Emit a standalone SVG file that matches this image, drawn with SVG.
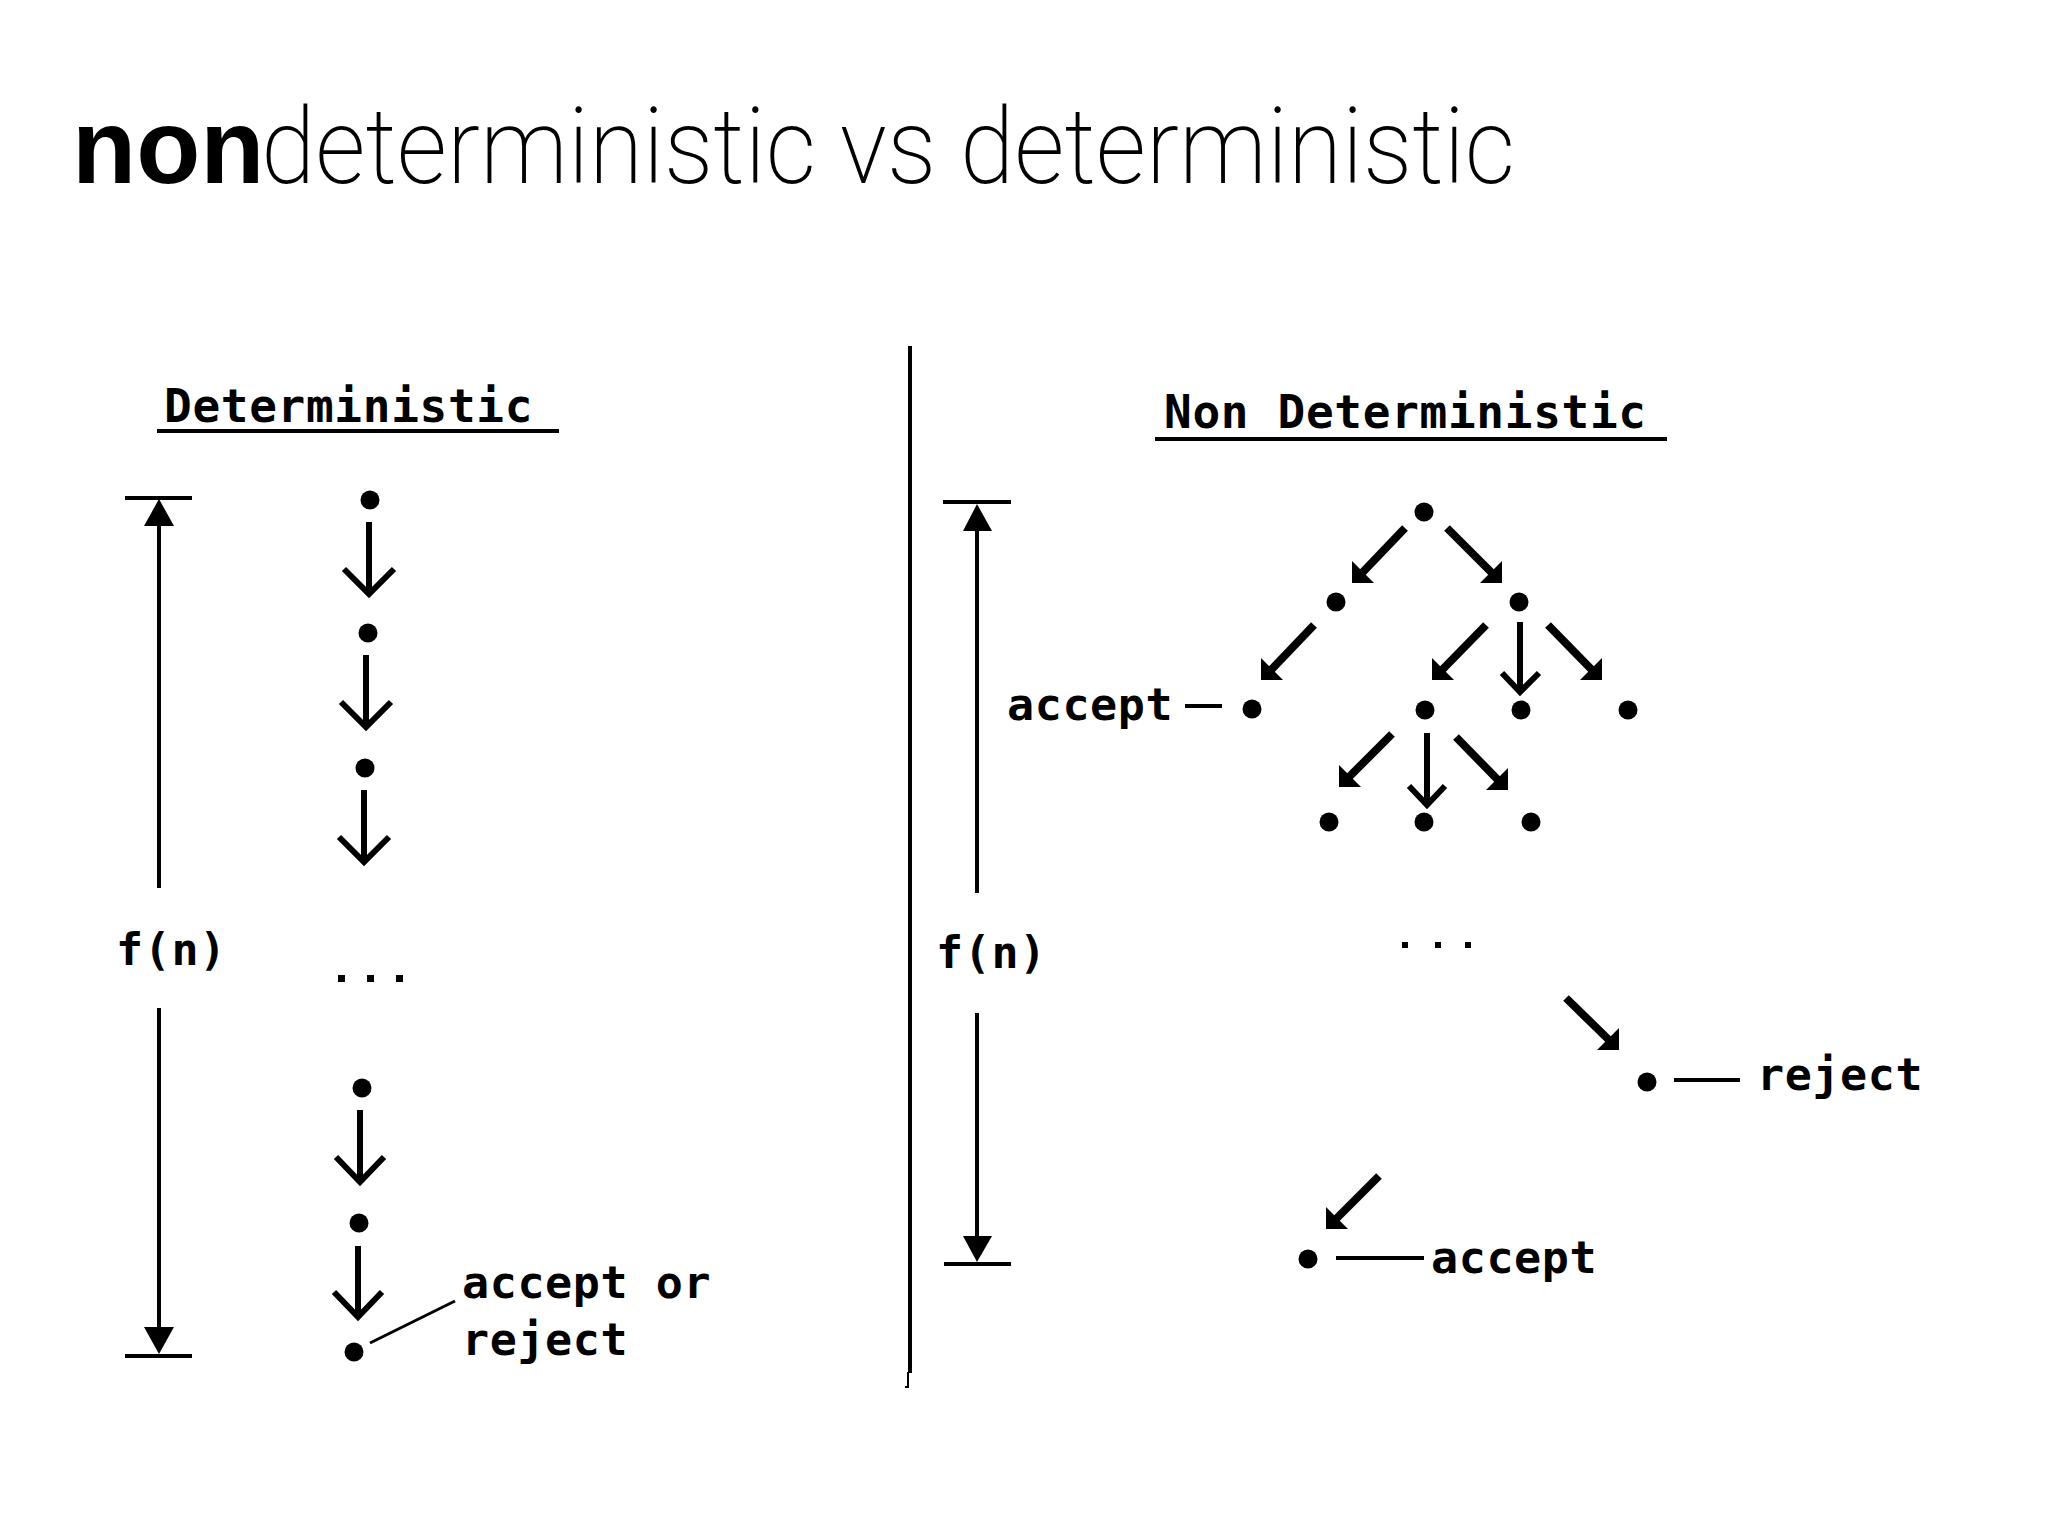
<svg xmlns="http://www.w3.org/2000/svg" width="2048" height="1536" viewBox="0 0 2048 1536">
<style>
.mono{font-family:"DejaVu Sans Mono","Liberation Mono",monospace;font-weight:bold;fill:#000;}
.lbl{font-size:45px;letter-spacing:0.6px;}
.head{font-size:46px;letter-spacing:0.7px;}
.dot{fill:#000;}
.ln{stroke:#000;fill:none;}
.dim{stroke:#000;stroke-width:4;fill:none;}
.chev{stroke:#000;stroke-width:6;fill:none;stroke-linejoin:miter;stroke-miterlimit:10;}
.diag{stroke:#000;stroke-width:8;fill:none;}
.head-tri{fill:#000;}
</style>
<rect width="2048" height="1536" fill="#fff"/>

<g id="title">
<text x="72" y="183" font-family="'Liberation Sans',Arial,sans-serif" font-weight="bold" font-size="105">non</text>
<text x="261" y="183" font-family="Roboto,'Liberation Sans',sans-serif" font-weight="200" font-size="105" textLength="1254" lengthAdjust="spacingAndGlyphs">deterministic vs deterministic</text>
</g>

<g id="divider">
<line class="ln" x1="910" y1="346" x2="910" y2="1373" stroke-width="4"/>
<line class="ln" x1="908" y1="1372" x2="908" y2="1388" stroke-width="2"/>
<line class="ln" x1="905" y1="1387" x2="909" y2="1387" stroke-width="2"/>
</g>

<!-- Left panel: Deterministic -->
<g id="det-heading">
<text class="mono head" x="164" y="422">Deterministic</text>
<line class="ln" x1="157" y1="431" x2="559" y2="431" stroke-width="4"/>
</g>

<g id="det-dimension">
<line class="dim" x1="125" y1="498" x2="192" y2="498"/>
<polygon class="head-tri" points="159,499 144,526 174,526"/>
<line class="dim" x1="159" y1="522" x2="159" y2="888"/>
<text class="mono lbl" x="116" y="965">f(n)</text>
<line class="dim" x1="159" y1="1008" x2="159" y2="1332"/>
<polygon class="head-tri" points="159,1354 144,1327 174,1327"/>
<line class="dim" x1="125" y1="1356" x2="192" y2="1356"/>
</g>

<g id="det-n1"><circle class="dot" cx="370" cy="500" r="9.5"/></g>
<g id="det-n2"><circle class="dot" cx="368" cy="633" r="9.5"/></g>
<g id="det-n3"><circle class="dot" cx="365" cy="768" r="9.5"/></g>
<g id="det-ellipsis">
<rect class="dot" x="338" y="975" width="7" height="7"/>
<rect class="dot" x="367" y="975" width="7" height="7"/>
<rect class="dot" x="396" y="975" width="7" height="7"/>
</g>
<g id="det-n4"><circle class="dot" cx="362" cy="1088" r="9.5"/></g>
<g id="det-n5"><circle class="dot" cx="359" cy="1223" r="9.5"/></g>
<g id="det-n6"><circle class="dot" cx="354" cy="1352" r="9.5"/></g>
<g id="det-label">
<text class="mono lbl" x="462" y="1298">accept or</text>
<text class="mono lbl" x="462" y="1355">reject</text>
</g>

<!-- Right panel: Non Deterministic -->
<g id="nd-heading">
<text class="mono head" x="1164" y="428">Non Deterministic</text>
<line class="ln" x1="1155" y1="439" x2="1667" y2="439" stroke-width="4"/>
</g>

<g id="nd-dimension">
<line class="dim" x1="943" y1="502" x2="1011" y2="502"/>
<polygon class="head-tri" points="977,504 963,531 992,531"/>
<line class="dim" x1="977" y1="528" x2="977" y2="893"/>
<text class="mono lbl" x="936" y="968">f(n)</text>
<line class="dim" x1="977" y1="1013" x2="977" y2="1240"/>
<polygon class="head-tri" points="977,1262 963,1236 992,1236"/>
<line class="dim" x1="944" y1="1264" x2="1011" y2="1264"/>
</g>

<g id="nd-root"><circle class="dot" cx="1424" cy="512" r="9.5"/></g>
<g id="nd-a"><circle class="dot" cx="1336" cy="602" r="9.5"/></g>
<g id="nd-b"><circle class="dot" cx="1519" cy="602" r="9.5"/></g>
<g id="nd-accept1"><circle class="dot" cx="1252" cy="709" r="9.5"/></g>
<g id="nd-c"><circle class="dot" cx="1425" cy="710" r="9.5"/></g>
<g id="nd-d"><circle class="dot" cx="1521" cy="710" r="9.5"/></g>
<g id="nd-e"><circle class="dot" cx="1628" cy="710" r="9.5"/></g>
<g id="nd-f"><circle class="dot" cx="1329" cy="822" r="9.5"/></g>
<g id="nd-g"><circle class="dot" cx="1424" cy="822" r="9.5"/></g>
<g id="nd-h"><circle class="dot" cx="1531" cy="822" r="9.5"/></g>
<g id="nd-ellipsis">
<rect class="dot" x="1402" y="942" width="6" height="6"/>
<rect class="dot" x="1435" y="942" width="6" height="6"/>
<rect class="dot" x="1465" y="942" width="6" height="6"/>
</g>
<g id="nd-reject"><circle class="dot" cx="1647" cy="1082" r="9.5"/></g>
<g id="nd-accept2"><circle class="dot" cx="1308" cy="1259" r="9.5"/></g>

<g id="nd-labels">
<text class="mono lbl" x="1007" y="720">accept</text>
<line class="ln" x1="1185" y1="706" x2="1222" y2="706" stroke-width="4"/>
<line class="ln" x1="1674" y1="1080" x2="1740" y2="1080" stroke-width="4"/>
<text class="mono lbl" x="1757" y="1090">reject</text>
<line class="ln" x1="1336" y1="1258" x2="1424" y2="1258" stroke-width="4"/>
<text class="mono lbl" x="1431" y="1273">accept</text>
</g>

<g id="connectors">
<!-- deterministic chain -->
<line class="chev" x1="369" y1="522" x2="369" y2="592"/>
<polyline class="chev" points="344,569 369,594 394,569"/>
<line class="chev" x1="366" y1="655" x2="366" y2="725"/>
<polyline class="chev" points="341,702 366,727 391,702"/>
<line class="chev" x1="364" y1="790" x2="364" y2="860"/>
<polyline class="chev" points="339,837 364,862 389,837"/>
<line class="chev" x1="360" y1="1110" x2="360" y2="1180"/>
<polyline class="chev" points="336,1157 360,1182 384,1157"/>
<line class="chev" x1="358" y1="1246" x2="358" y2="1315"/>
<polyline class="chev" points="334,1292 358,1317 382,1292"/>
<line class="ln" x1="370" y1="1343" x2="455" y2="1301" stroke-width="3"/>

<!-- nondeterministic tree: diagonal filled arrows -->
<line class="diag" x1="1405" y1="528" x2="1362" y2="573"/>
<polygon class="head-tri" points="1352,583 1352,561 1374,583"/>
<line class="diag" x1="1447" y1="528" x2="1492" y2="573"/>
<polygon class="head-tri" points="1502,583 1502,561 1480,583"/>
<line class="diag" x1="1314" y1="625" x2="1271" y2="670"/>
<polygon class="head-tri" points="1261,680 1261,658 1283,680"/>
<line class="diag" x1="1486" y1="625" x2="1442" y2="670"/>
<polygon class="head-tri" points="1432,680 1432,658 1454,680"/>
<line class="chev" x1="1520" y1="622" x2="1520" y2="690"/>
<polyline class="chev" points="1502,673 1520,692 1539,673"/>
<line class="diag" x1="1548" y1="625" x2="1592" y2="670"/>
<polygon class="head-tri" points="1602,680 1602,658 1580,680"/>
<line class="diag" x1="1392" y1="734" x2="1349" y2="777"/>
<polygon class="head-tri" points="1339,787 1339,765 1361,787"/>
<line class="chev" x1="1427" y1="733" x2="1427" y2="803"/>
<polyline class="chev" points="1409,786 1427,805 1445,786"/>
<line class="diag" x1="1456" y1="737" x2="1498" y2="780"/>
<polygon class="head-tri" points="1508,790 1508,768 1486,790"/>
<line class="diag" x1="1566" y1="998" x2="1609" y2="1040"/>
<polygon class="head-tri" points="1619,1050 1619,1028 1597,1050"/>
<line class="diag" x1="1379" y1="1176" x2="1336" y2="1219"/>
<polygon class="head-tri" points="1326,1229 1326,1207 1348,1229"/>
</g>
</svg>
